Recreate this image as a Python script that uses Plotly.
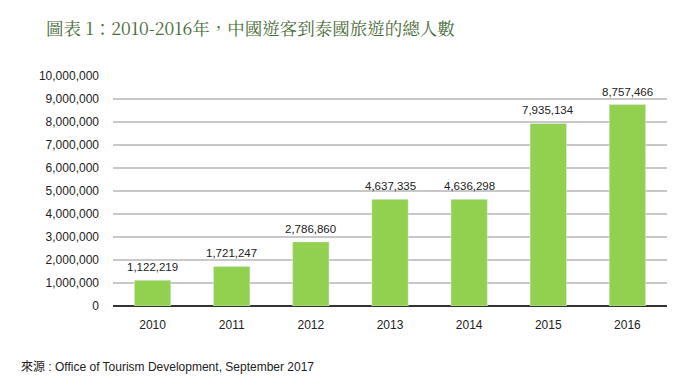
import plotly.graph_objects as go

years = ["2010", "2011", "2012", "2013", "2014", "2015", "2016"]
visitors = [1122219, 1721247, 2786860, 4637335, 4636298, 7935134, 8757466]
tick_vals = [0, 1000000, 2000000, 3000000, 4000000, 5000000, 6000000, 7000000, 8000000, 9000000, 10000000]
tick_text = ["0"] + [f"{v:,}" for v in tick_vals[1:]]

FONT = "Liberation Sans, Arial, sans-serif"

fig = go.Figure(go.Bar(
    x=years, y=visitors,
    marker_color="#92d050",
    cliponaxis=False,
))

# category axis: annotation x given as category index
value_labels = [
    dict(x=i, y=v, text=f"{v:,}", xref="x", yref="y",
         yanchor="bottom", xanchor="center", yshift=5, showarrow=False,
         font=dict(family=FONT, size=11.5, color="#222222"))
    for i, v in enumerate(visitors)
]

fig.update_layout(
    width=700, height=388,
    margin=dict(l=105, r=41, t=68, b=90, autoexpand=False),
    paper_bgcolor="white", plot_bgcolor="white",
    bargap=0.54,
    showlegend=False,
    font=dict(family=FONT, size=12, color="#222222"),
    xaxis=dict(type="category", range=[-0.5, len(years) - 0.5],
               showgrid=False, showline=False, ticks="", automargin=False,
               ticklabelstandoff=10,
               tickfont=dict(family=FONT, size=12, color="#222222")),
    yaxis=dict(range=[0, 10000000], tickvals=tick_vals, ticktext=tick_text,
               showgrid=True, gridcolor="#c8c8c8", gridwidth=1.5, automargin=False,
               zeroline=True, zerolinecolor="#333333", zerolinewidth=2,
               ticks="", ticklabelstandoff=13,
               tickfont=dict(family=FONT, size=12, color="#222222")),
    annotations=value_labels + [
        dict(text="圖表 1：2010-2016年，中國遊客到泰國旅遊的總人數",
             xref="paper", yref="paper", x=-0.1245, y=1.0, yshift=49,
             xanchor="left", yanchor="middle", showarrow=False,
             font=dict(family="Noto Serif CJK TC, Liberation Serif, Noto Sans CJK TC, serif", size=17.5, color="#4a6b3a")),
        dict(text="來源 : Office of Tourism Development, September 2017",
             xref="paper", yref="paper", x=-0.1697, y=0, yshift=-61,
             xanchor="left", yanchor="middle", showarrow=False,
             font=dict(family=FONT + ", Noto Sans CJK TC", size=12, color="#222222")),
    ],
)

fig.write_html("out.html")
